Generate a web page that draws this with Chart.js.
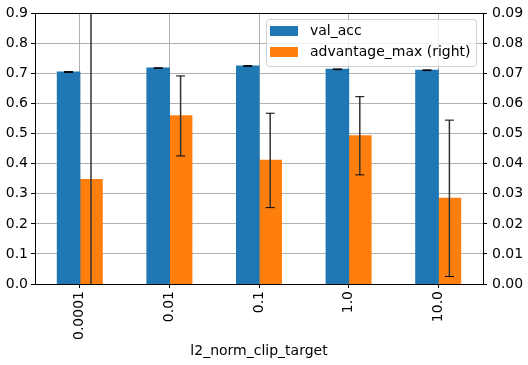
<!DOCTYPE html>
<html>
<head>
<meta charset="utf-8">
<script src="https://cdn.jsdelivr.net/npm/chart.js@4.4.1/dist/chart.umd.min.js"></script>
<style>
  html, body { margin: 0; padding: 0; background: #fff; }
  #wrap { width: 528px; height: 365px; position: relative; }
</style>
</head>
<body>
<div id="wrap"><canvas id="chart"></canvas></div>
<script>
// ---------- dados ----------
const categorias = ["0.0001", "0.01", "0.1", "1.0", "10.0"];
const valAcc = [0.705, 0.718, 0.725, 0.714, 0.711];
const valAccErr = [0.0015, 0.0012, 0.0012, 0.0012, 0.0012];
const advantageMax = [0.0347, 0.0559, 0.0411, 0.0493, 0.0285];
const advantageMaxErr = [0.065, 0.0133, 0.0157, 0.013, 0.026];
const ticksEsquerda = [0, 0.1, 0.2, 0.3, 0.4, 0.5, 0.6, 0.7, 0.8, 0.9];
const ticksDireita = [0, 0.01, 0.02, 0.03, 0.04, 0.05, 0.06, 0.07, 0.08, 0.09];

const AZUL = "#1f77b4";
const LARANJA = "#ff7f0e";
const FONTE = { family: "'DejaVu Sans', sans-serif", size: 14 };

// barras de erro desenhadas pelas escalas do proprio grafico
const errorBars = {
  id: "errorBars",
  afterDatasetsDraw(chart) {
    const ctx = chart.ctx;
    const area = chart.chartArea;
    const erros = [valAccErr, advantageMaxErr];
    ctx.save();
    ctx.beginPath();
    ctx.rect(area.left, area.top, area.right - area.left, area.bottom - area.top);
    ctx.clip();
    chart.data.datasets.forEach((ds, i) => {
      const meta = chart.getDatasetMeta(i);
      const escala = chart.scales[ds.yAxisID];
      meta.data.forEach((bar, j) => {
        const v = ds.data[j];
        const e = erros[i][j];
        const yTop = escala.getPixelForValue(v + e);
        const yBot = escala.getPixelForValue(v - e);
        ctx.strokeStyle = "#333";
        ctx.lineWidth = 1.5;
        ctx.beginPath();
        ctx.moveTo(bar.x, yTop);
        ctx.lineTo(bar.x, yBot);
        ctx.stroke();
        ctx.strokeStyle = "#000";
        ctx.lineWidth = 1;
        ctx.beginPath();
        ctx.moveTo(bar.x - 4.5, yTop);
        ctx.lineTo(bar.x + 4.5, yTop);
        ctx.moveTo(bar.x - 4.5, yBot);
        ctx.lineTo(bar.x + 4.5, yBot);
        ctx.stroke();
      });
    });
    ctx.restore();
  }
};

// moldura e legenda no estilo matplotlib
const frameLegend = {
  id: "frameLegend",
  afterDraw(chart) {
    const ctx = chart.ctx;
    const a = chart.chartArea;
    ctx.save();
    ctx.strokeStyle = "#000";
    ctx.lineWidth = 1;
    ctx.strokeRect(Math.round(a.left) + 0.5, Math.round(a.top) + 0.5,
      Math.round(a.right - a.left), Math.round(a.bottom - a.top));

    // legenda
    const x0 = 266, y0 = 19, w = 210, h = 47;
    ctx.fillStyle = "rgba(255,255,255,0.8)";
    ctx.strokeStyle = "#d0d0d0";
    ctx.beginPath();
    ctx.roundRect(x0 + 0.5, y0 + 0.5, w, h, 3);
    ctx.fill();
    ctx.stroke();
    const itens = [
      { cor: AZUL, texto: chart.data.datasets[0].label },
      { cor: LARANJA, texto: chart.data.datasets[1].label }
    ];
    ctx.font = "14px 'DejaVu Sans', sans-serif";
    ctx.textBaseline = "middle";
    itens.forEach((it, i) => {
      const yc = y0 + 12 + i * 21;
      ctx.fillStyle = it.cor;
      ctx.fillRect(270, yc - 5, 28, 10);
      ctx.fillStyle = "#000";
      ctx.fillText(it.texto, 310, yc + 0.5);
    });
    ctx.restore();
  }
};

new Chart(document.getElementById("chart"), {
  type: "bar",
  data: {
    labels: categorias,
    datasets: [
      { label: "val_acc", data: valAcc, backgroundColor: AZUL, yAxisID: "y",
        categoryPercentage: 0.5, barPercentage: 1.0, borderWidth: 0, inflateAmount: 0.6 },
      { label: "advantage_max (right)", data: advantageMax, backgroundColor: LARANJA, yAxisID: "y1",
        categoryPercentage: 0.5, barPercentage: 1.0, borderWidth: 0, inflateAmount: 0.6 }
    ]
  },
  options: {
    responsive: true,
    maintainAspectRatio: false,
    animation: false,
    layout: { padding: { top: 12, left: 0, right: 0, bottom: 0 } },
    plugins: {
      legend: { display: false },
      tooltip: { enabled: false }
    },
    scales: {
      x: {
        grid: { color: "#b0b0b0", lineWidth: 1, tickColor: "#000", tickLength: 4, offset: false },
        border: { display: false },
        ticks: { color: "#000", font: FONTE, minRotation: 90, maxRotation: 90, padding: 3, autoSkip: false },
        title: { display: true, text: "l2_norm_clip_target", color: "#000", font: FONTE, padding: { top: 0, bottom: 5 } },
        afterFit(s) { s.height = 81; }
      },
      y: {
        position: "left",
        min: 0, max: 0.9,
        afterBuildTicks(s) { s.ticks = ticksEsquerda.map(v => ({ value: v })); },
        grid: { color: "#b0b0b0", lineWidth: 1, tickColor: "#000", tickLength: 4 },
        border: { display: false },
        ticks: { color: "#000", font: FONTE, padding: 3, callback: v => v.toFixed(1) },
        afterFit(s) { s.width = 35; }
      },
      y1: {
        position: "right",
        min: 0, max: 0.09,
        afterBuildTicks(s) { s.ticks = ticksDireita.map(v => ({ value: v })); },
        grid: { drawOnChartArea: false, tickColor: "#000", tickLength: 4 },
        border: { display: false },
        ticks: { color: "#000", font: FONTE, padding: 5, callback: v => v.toFixed(2) },
        afterFit(s) { s.width = 45; }
      }
    }
  },
  plugins: [errorBars, frameLegend]
});
</script>
</body>
</html>
